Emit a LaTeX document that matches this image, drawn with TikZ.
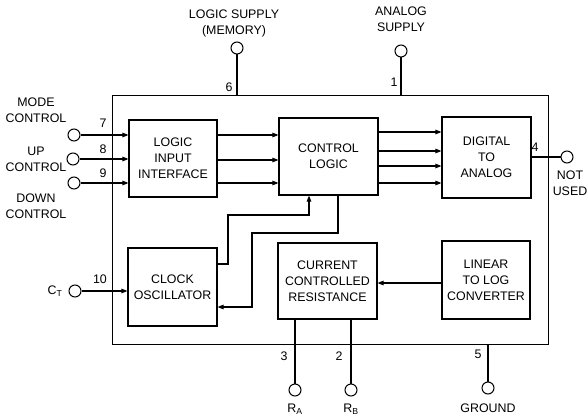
\documentclass[tikz,border=0pt]{standalone}
\usepackage{fontspec}
\setmainfont{Liberation Sans}
\usetikzlibrary{arrows.meta}
\begin{document}
\begin{tikzpicture}[x=1pt,y=-1pt,
  font=\fontsize{12.4}{16}\selectfont,
  blk/.style={draw, line width=1.1pt, align=center, inner sep=0pt},
  pin/.style={draw, circle, line width=1pt, minimum size=12pt, inner sep=0pt},
  wire/.style={line width=1.1pt},
  arr/.style={line width=1.1pt, -{Triangle[length=6pt,width=4.5pt]}},
  lbl/.style={align=center, inner sep=0pt}]
\useasboundingbox (0,0) rectangle (588,417);
% outer chip
\node[draw, line width=1pt, minimum width=436pt, minimum height=248pt, inner sep=0pt] (chip) at (330,220) {};
% blocks
\node[blk, minimum width=88pt, minimum height=77pt] (lii) at (173,158.5) {LOGIC\\INPUT\\INTERFACE};
\node[blk, minimum width=99pt, minimum height=77pt] (cl) at (328.5,156.5) {CONTROL\\LOGIC};
\node[blk, minimum width=89pt, minimum height=81pt] (dta) at (486.5,157.5) {DIGITAL\\TO\\ANALOG};
\node[blk, minimum width=89pt, minimum height=78pt] (clk) at (172.5,287) {CLOCK\\OSCILLATOR};
\node[blk, minimum width=99pt, minimum height=76pt] (ccr) at (327.5,281) {CURRENT\\CONTROLLED\\RESISTANCE};
\node[blk, minimum width=88pt, minimum height=78pt] (ltl) at (486,280) {LINEAR\\TO LOG\\CONVERTER};
% pins
\node[pin] (p6) at (237,48) {};
\node[pin] (p1) at (401,51) {};
\node[pin] (p7) at (74,135) {};
\node[pin] (p8) at (73,159) {};
\node[pin] (p9) at (74,183) {};
\node[pin] (p10) at (75,291) {};
\node[pin] (p4) at (567,157) {};
\node[pin] (p3) at (295,390) {};
\node[pin] (p2) at (351,390) {};
\node[pin] (p5) at (488,388) {};
% pin labels
\node[lbl] (t6) at (234,23) {LOGIC SUPPLY\\(MEMORY)};
\node[lbl] (t1) at (401,19) {ANALOG\\SUPPLY};
\node[lbl] (t7) at (36,110) {MODE\\CONTROL};
\node[lbl] (t8) at (36,159) {UP\\CONTROL};
\node[lbl] (t9) at (36,206) {DOWN\\CONTROL};
\node[lbl] (t10) at (55,291) {C$_{\mathrm{T}}$};
\node[lbl] (t4) at (570,183) {NOT\\USED};
\node[lbl] (t3) at (295,409) {R$_{\mathrm{A}}$};
\node[lbl] (t2) at (351,409) {R$_{\mathrm{B}}$};
\node[lbl] (t5) at (488,408) {GROUND};
% pin numbers
\node[lbl] (n6) at (229,87) {6};
\node[lbl] (n1) at (394,82) {1};
\node[lbl] (n7) at (103,123) {7};
\node[lbl] (n8) at (103,149) {8};
\node[lbl] (n9) at (103,173) {9};
\node[lbl] (n10) at (100,279) {10};
\node[lbl] (n4) at (535,147) {4};
\node[lbl] (n3) at (284,356) {3};
\node[lbl] (n2) at (339,356) {2};
\node[lbl] (n5) at (478,354) {5};
% supply wires
\draw[wire] (p6) -- (p6 |- chip.north);
\draw[wire] (p1) -- (p1 |- chip.north);
\draw[wire] (p5) -- (p5 |- chip.south);
\draw[wire] (p3) -- (p3 |- ccr.south);
\draw[wire] (p2) -- (p2 |- ccr.south);
% inputs
\draw[arr] (p7) -- (p7 -| lii.west);
\draw[arr] (p8) -- (p8 -| lii.west);
\draw[arr] (p9) -- (p9 -| lii.west);
\draw[arr] (p10) -- (p10 -| clk.west);
% output
\draw[wire] (p4) -- (p4 -| dta.east);
% LII to CL
\foreach \yy in {135,160,183} \draw[arr] (lii.east |- 0,\yy) -- (cl.west |- 0,\yy);
% CL to DTA
\foreach \yy in {132,151,166,183} \draw[arr] (cl.east |- 0,\yy) -- (dta.west |- 0,\yy);
% feedback
\draw[arr] (clk.east |- 0,264) -- (228,264) -- (228,215) -- (309,215) -- (309,0 |- cl.south);
\draw[arr] (338,0 |- cl.south) -- (338,233) -- (252,233) -- (252,307) -- (clk.east |- 0,307);
% LTL to CCR
\draw[arr] (ltl.west |- 0,283) -- (ccr.east |- 0,283);
\end{tikzpicture}
\end{document}
